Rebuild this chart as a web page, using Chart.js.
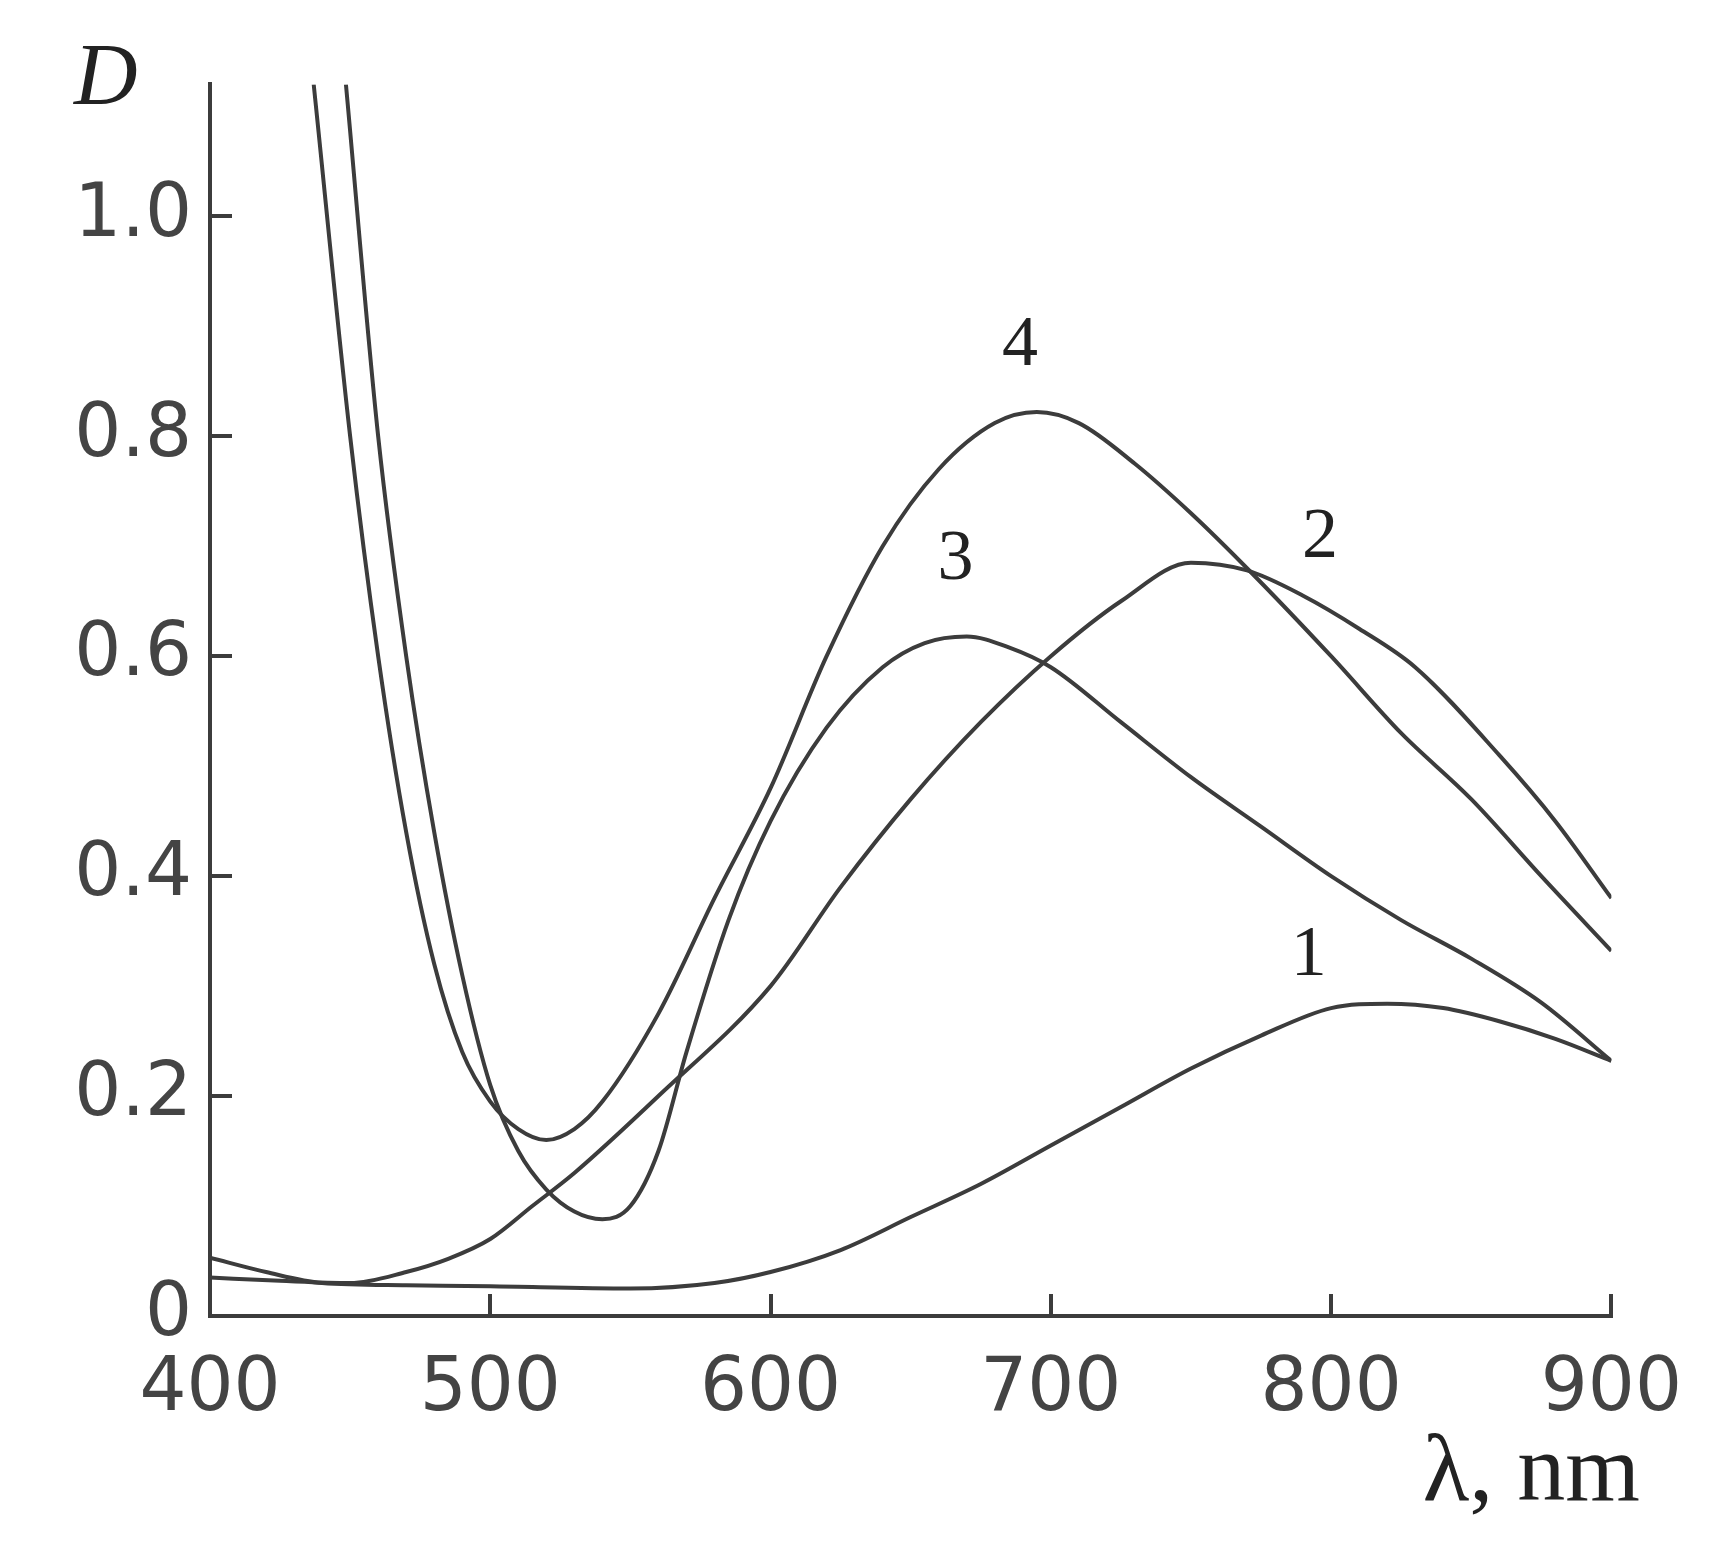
<!DOCTYPE html>
<html>
<head>
<meta charset="utf-8">
<script src="https://cdn.jsdelivr.net/npm/chart.js@4.4.1/dist/chart.umd.min.js"></script>
<style>
  html, body { margin: 0; padding: 0; background: #fff; }
  #wrap { width: 1734px; height: 1567px; }
</style>
</head>
<body>
<div id="wrap"><canvas id="c" width="1734" height="1567"></canvas></div>
<script>
// Absorption spectra D(λ), curves 1–4
const curve1 = [[400,0.053],[420,0.04],[440,0.03],[470,0.028],[500,0.027],[550,0.025],[580,0.03],[600,0.04],[625,0.06],[650,0.09],[675,0.12],[700,0.155],[725,0.19],[750,0.225],[775,0.255],[800,0.28],[820,0.284],[840,0.28],[860,0.268],[880,0.252],[900,0.232]];
const curve2 = [[400,0.035],[425,0.032],[450,0.03],[470,0.04],[485,0.052],[500,0.07],[515,0.1],[530,0.13],[560,0.2],[600,0.3],[625,0.39],[650,0.47],[675,0.54],[700,0.6],[725,0.65],[750,0.685],[770,0.678],[790,0.655],[810,0.625],[830,0.59],[860,0.51],[880,0.45],[900,0.38]];
const curve3 = [[448.5,1.12],[460,0.8],[470,0.6],[480,0.44],[490,0.31],[500,0.21],[510,0.15],[520,0.115],[530,0.095],[540,0.088],[550,0.1],[560,0.15],[570,0.24],[585,0.36],[600,0.45],[620,0.535],[640,0.59],[655,0.612],[670,0.618],[685,0.608],[700,0.59],[725,0.54],[750,0.49],[775,0.445],[800,0.4],[825,0.36],[850,0.325],[875,0.285],[900,0.232]];
const curve4 = [[437,1.12],[450,0.8],[460,0.6],[470,0.44],[480,0.32],[490,0.24],[500,0.195],[510,0.17],[520,0.16],[530,0.17],[540,0.195],[560,0.275],[580,0.38],[600,0.48],[620,0.6],[640,0.7],[660,0.77],[680,0.812],[695,0.822],[710,0.812],[730,0.775],[750,0.73],[770,0.68],[800,0.6],[825,0.53],[850,0.47],[875,0.4],[900,0.332]];
const curveNames = ['1', '2', '3', '4'];
const labelPos = [[792,0.31],[796,0.69],[666,0.67],[689,0.865]];
const xTicks = [400, 500, 600, 700, 800, 900];
const yTicks = [0, 0.2, 0.4, 0.6, 0.8, 1.0];

const LINE = '#3c3c3c';
const toXY = arr => arr.map(([x, y]) => ({ x, y }));

const datasets = [curve1, curve2, curve3, curve4].map((c, i) => ({
  label: curveNames[i],
  data: toXY(c),
  borderColor: LINE,
  borderWidth: 4,
  pointRadius: 0,
  fill: false,
  cubicInterpolationMode: 'monotone',
}));

// Curve numbers and axis titles
const labelsPlugin = {
  id: 'curveLabels',
  afterDraw(chart) {
    const ctx = chart.ctx;
    const xs = chart.scales.x, ys = chart.scales.y;
    ctx.save();
    ctx.fillStyle = '#222';
    ctx.font = '72px "Liberation Serif", serif';
    ctx.textAlign = 'center';
    ctx.textBaseline = 'alphabetic';
    labelPos.forEach(([lx, ly], i) => {
      ctx.fillText(curveNames[i], xs.getPixelForValue(lx), ys.getPixelForValue(ly));
    });
    ctx.font = 'italic 88px "Liberation Serif", serif';
    ctx.textAlign = 'left';
    ctx.fillText('D', 74, 104);
    ctx.font = '96px "Liberation Serif", serif';
    ctx.textAlign = 'right';
    ctx.fillText('λ, nm', 1640, 1500);
    ctx.restore();
  },
};

new Chart(document.getElementById('c'), {
  type: 'line',
  data: { datasets },
  options: {
    responsive: false,
    animation: false,
    layout: { padding: { top: 83, right: 117, left: 0, bottom: 0 } },
    plugins: { legend: { display: false }, tooltip: { enabled: false } },
    scales: {
      x: {
        type: 'linear', min: 400, max: 900,
        afterBuildTicks(axis) { axis.ticks = xTicks.map(v => ({ value: v })); },
        afterFit(axis) { axis.height = 251; },
        border: { color: LINE, width: 4 },
        grid: { drawOnChartArea: false, drawTicks: true, tickLength: -22, color: LINE, lineWidth: 4 },
        ticks: { color: '#444', font: { size: 74, family: '"DejaVu Sans", sans-serif' }, padding: 52, maxRotation: 0 },
      },
      y: {
        type: 'linear', min: 0, max: 1.12,
        afterBuildTicks(axis) { axis.ticks = yTicks.map(v => ({ value: v })); },
        afterFit(axis) { axis.width = 210; },
        border: { color: LINE, width: 4 },
        grid: { drawOnChartArea: false, drawTicks: true, tickLength: -22, color: LINE, lineWidth: 4 },
        ticks: {
          color: '#444', font: { size: 74, family: '"DejaVu Sans", sans-serif' }, padding: 40,
          callback: v => (v === 0 ? '0' : v.toFixed(1)),
        },
      },
    },
  },
  plugins: [labelsPlugin],
});
</script>
</body>
</html>
